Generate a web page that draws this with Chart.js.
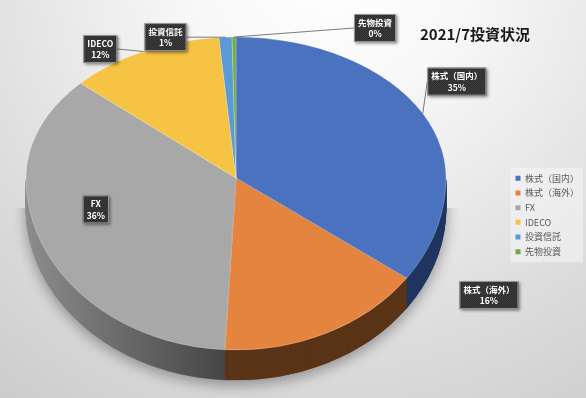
<!DOCTYPE html>
<html>
<head>
<meta charset="utf-8">
<script src="https://cdn.jsdelivr.net/npm/chart.js@4.4.1/dist/chart.umd.min.js"></script>
<style>
  html, body { margin: 0; padding: 0; background: #fff; }
  canvas { display: block; }
</style>
</head>
<body>
<canvas id="pie" width="586" height="398"></canvas>
<script>
// data
const chartTitle = '2021/7投資状況';
const categories = ['株式（国内）', '株式（海外）', 'FX', 'IDECO', '投資信託', '先物投資'];
const values = [35, 16, 36, 12, 1, 0.3];   // 先物投資 shows as 0% but is a thin sliver
const pctLabels = ['35%', '16%', '36%', '12%', '1%', '0%'];

// look
const FONT = '"Noto Sans CJK JP", "Noto Sans", sans-serif';
const topColors = ['#4a72bf', '#e5843f', '#a8a8a8', '#f6c344', '#5b9bd5', '#70ad47'];
const sideColors = ['#1f3560', '#5a3417', 'gray', '#7a5c10', '#2b4a66', '#355425'];
// far half is flatter than the near half, a cheap stand-in for perspective
const PIE = { x: 236, y: 178, rx: 210, ryTop: 141, ryBottom: 172, depth: 30 };
// where each data label box sits, relative to its slice's outer edge
const labelOffsets = [[34, -32], [162, -38], [54, -34], [-43, -2.5], [-60, 0], [141, -9]];
const labelLeaders = [true, false, false, true, true, true];

function sideFill(ctx, arc, i) {
  if (sideColors[i] !== 'gray') return sideColors[i];
  const g = ctx.createLinearGradient(arc.x - arc.outerRadius, 0, arc.x + arc.outerRadius * 0.05, 0);
  g.addColorStop(0, '#8c8c8c');
  g.addColorStop(1, '#3e3e3e');
  return g;
}

function boxPattern(ctx) {
  const c = document.createElement('canvas');
  c.width = 2; c.height = 2;
  const p = c.getContext('2d');
  p.fillStyle = '#3b3b3b'; p.fillRect(0, 0, 2, 2);
  p.fillStyle = '#2e2e2e'; p.fillRect(0, 0, 1, 1); p.fillRect(1, 1, 1, 1);
  return ctx.createPattern(c, 'repeat');
}

const background = {
  id: 'background',
  beforeDraw(chart) {
    const ctx = chart.ctx;
    ctx.save();
    const g = ctx.createRadialGradient(330, -40, 0, 330, -40, 560);
    g.addColorStop(0, '#ffffff');
    g.addColorStop(0.25, '#f8f8f8');
    g.addColorStop(0.7, '#dcdcdc');
    g.addColorStop(1, '#cbcbcb');
    ctx.fillStyle = g;
    ctx.fillRect(0, 0, chart.width, chart.height);
    // faint panel behind the legend
    const boxes = chart.legend.legendHitBoxes;
    if (boxes && boxes.length) {
      const l = Math.min(...boxes.map(b => b.left)) - 5;
      const t = Math.min(...boxes.map(b => b.top)) - 6;
      const r = Math.max(...boxes.map(b => b.left + b.width)) + 4;
      const btm = Math.max(...boxes.map(b => b.top + b.height)) + 6;
      ctx.fillStyle = 'rgba(245,245,245,0.55)';
      ctx.fillRect(l, t, r - l, btm - t);
    }
    ctx.restore();
  },
  afterDraw(chart) {
    const ctx = chart.ctx;
    ctx.save();
    ctx.font = 'bold 15px ' + FONT;
    ctx.fillStyle = '#1a1a1a';
    ctx.textAlign = 'center';
    ctx.textBaseline = 'middle';
    ctx.fillText(chartTitle, 475, 34);
    ctx.restore();
  }
};

// squash the pie into an ellipse and give it a side wall
const pie3d = {
  id: 'pie3d',
  beforeDatasetsDraw(chart) {
    const ctx = chart.ctx;
    const W = chart.width, H = chart.height;
    const arcs = chart.getDatasetMeta(0).data;
    const a0 = arcs[0];
    const R = a0.outerRadius;
    const toEllipse = (dy, ry) => {
      ctx.translate(PIE.x, PIE.y + dy);
      ctx.scale(PIE.rx / R, ry / R);
      ctx.translate(-a0.x, -a0.y);
    };
    const drawArcs = (fillFor) => {
      arcs.forEach((arc, i) => {
        const saved = arc.options;
        const fill = fillFor(arc, i);
        arc.options = Object.assign({}, saved, { backgroundColor: fill, borderColor: fill });
        arc.draw(ctx);
        arc.options = saved;
      });
    };

    // side wall: stacked copies of the near half, darker
    for (let d = PIE.depth; d >= 1; d--) {
      ctx.save();
      ctx.beginPath();
      ctx.rect(0, PIE.y + d, W, H);
      ctx.clip();
      toEllipse(d, PIE.ryBottom);
      if (d === PIE.depth) {
        ctx.shadowColor = 'rgba(0,0,0,0.35)';
        ctx.shadowBlur = 14;
        ctx.shadowOffsetY = 4;
      }
      drawArcs((arc, i) => sideFill(ctx, arc, i));
      ctx.restore();
    }

    // far half of the top face
    ctx.save();
    ctx.beginPath();
    ctx.rect(0, 0, W, PIE.y + 0.5);
    ctx.clip();
    toEllipse(0, PIE.ryTop);
    arcs.forEach(arc => arc.draw(ctx));
    ctx.restore();

    // near half: left to the library's own dataset draw
    ctx.save();
    ctx.beginPath();
    ctx.rect(0, PIE.y, W, H);
    ctx.clip();
    toEllipse(0, PIE.ryBottom);
  },
  afterDatasetsDraw(chart) {
    const ctx = chart.ctx;
    ctx.restore();

    const arcs = chart.getDatasetMeta(0).data;
    const anchors = arcs.map(arc => {
      const m = (arc.startAngle + arc.endAngle) / 2;
      const s = Math.sin(m);
      return [PIE.x + PIE.rx * Math.cos(m), PIE.y + (s < 0 ? PIE.ryTop : PIE.ryBottom) * s];
    });

    ctx.save();
    ctx.font = 'bold 8.5px ' + FONT;
    const boxes = anchors.map((a, i) => {
      const w = Math.max(ctx.measureText(categories[i]).width, ctx.measureText(pctLabels[i]).width) + 8;
      const h = 28;
      const cx = a[0] + labelOffsets[i][0], cy = a[1] + labelOffsets[i][1];
      return { l: cx - w / 2, t: cy - h / 2, w, h, cx };
    });

    // leader lines
    ctx.strokeStyle = '#5a5a5a';
    ctx.lineWidth = 0.8;
    boxes.forEach((b, i) => {
      if (!labelLeaders[i]) return;
      const a = anchors[i];
      const ex = a[0] < b.l ? b.l : b.l + b.w;
      ctx.beginPath();
      ctx.moveTo(a[0], a[1]);
      ctx.lineTo(ex, b.t + b.h / 2);
      ctx.stroke();
    });

    const pat = boxPattern(ctx);
    boxes.forEach((b, i) => {
      ctx.save();
      ctx.shadowColor = 'rgba(0,0,0,0.45)';
      ctx.shadowBlur = 3;
      ctx.shadowOffsetX = 1.5;
      ctx.shadowOffsetY = 1.5;
      ctx.fillStyle = pat;
      ctx.fillRect(b.l, b.t, b.w, b.h);
      ctx.restore();
      ctx.strokeStyle = 'rgba(200,200,200,0.8)';
      ctx.lineWidth = 0.8;
      ctx.strokeRect(b.l + 0.5, b.t + 0.5, b.w - 1, b.h - 1);
      ctx.fillStyle = '#ffffff';
      ctx.textAlign = 'center';
      ctx.textBaseline = 'middle';
      ctx.fillText(categories[i], b.cx, b.t + 8.5);
      ctx.fillText(pctLabels[i], b.cx, b.t + 20);
    });
    ctx.restore();
  }
};

new Chart(document.getElementById('pie'), {
  type: 'pie',
  data: {
    labels: categories,
    datasets: [{
      data: values,
      backgroundColor: topColors,
      borderColor: 'rgba(255,255,255,0.35)',
      borderWidth: 0.7,
      clip: false
    }]
  },
  options: {
    responsive: false,
    animation: false,
    devicePixelRatio: 1,
    layout: { padding: { top: 32, right: -3 } },
    plugins: {
      title: { display: false },
      tooltip: { enabled: false },
      legend: {
        position: 'right',
        align: 'center',
        labels: {
          boxWidth: 5,
          boxHeight: 5,
          padding: 5.7,
          color: '#595959',
          font: { size: 9, family: FONT },
          generateLabels(chart) {
            const items = Chart.overrides.pie.plugins.legend.labels.generateLabels(chart);
            items.forEach(it => { it.lineWidth = 0; });
            return items;
          }
        }
      }
    }
  },
  plugins: [background, pie3d]
});
</script>
</body>
</html>
